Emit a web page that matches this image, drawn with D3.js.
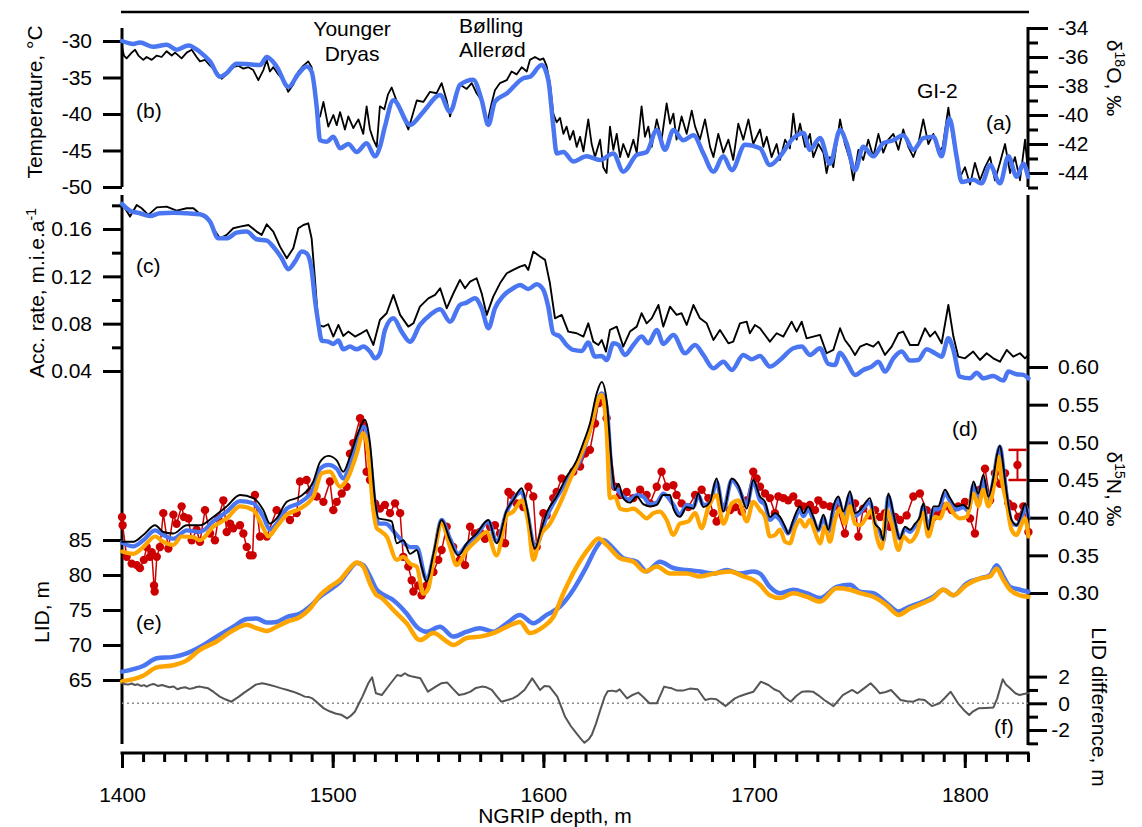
<!DOCTYPE html>
<html>
<head>
<meta charset="utf-8">
<script src="https://cdn.jsdelivr.net/npm/d3@7"></script>
<style>
body { margin: 0; background: #fff; }
svg text { font-family: "Liberation Sans", Arial, sans-serif; font-size: 21px; fill: #000; }
.tick line { stroke: #000; stroke-width: 3; }
</style>
</head>
<body>
<script>
// ---- data: [NGRIP depth (m), value] ----
var tempBlue = [[1400,-30.0],[1405.4,-30.4],[1408.5,-30.2],[1414.9,-30.8],[1421.2,-30.5],[1426,-31.2],[1431.5,-30.6],[1437,-31.5],[1441.8,-32.8],[1446.5,-34.9],[1449.7,-34.4],[1454.4,-33.1],[1460.7,-33.2],[1465.5,-33.3],[1468.7,-32.2],[1473.4,-33.5],[1479,-36.3],[1483.7,-34.5],[1487.7,-33.5],[1490,-34.2],[1492.4,-39.0],[1494,-43.6],[1497.2,-43.8],[1500.3,-43.1],[1503.5,-44.7],[1507.4,-44.1],[1511.4,-45.2],[1516.1,-44.0],[1520.1,-45.8],[1522.4,-44.5],[1524.8,-41.7],[1528.8,-38.1],[1536.7,-41.5],[1543,-39.7],[1551,-37.4],[1555.7,-39.7],[1560.4,-36.0],[1566.7,-35.3],[1570.7,-38.1],[1573.9,-41.5],[1577,-38.3],[1582.6,-37.2],[1590.5,-35.1],[1593.6,-34.9],[1599.2,-33.3],[1602.3,-35.3],[1604.7,-41.7],[1606.3,-45.4],[1609.5,-45.2],[1614.2,-46.5],[1620.5,-45.8],[1626.9,-46.3],[1633.2,-45.4],[1637.9,-47.9],[1644.3,-45.6],[1649,-45.2],[1653.8,-42.2],[1657.7,-44.9],[1661.7,-42.2],[1666.4,-43.6],[1671.2,-42.9],[1675.9,-45.4],[1680.7,-47.9],[1685.4,-45.8],[1689.4,-47.7],[1695.7,-44.2],[1702.8,-44.7],[1707.5,-47.0],[1712.3,-45.8],[1718.6,-43.3],[1723.4,-42.6],[1726.5,-44.9],[1731.3,-43.3],[1736,-46.8],[1740.8,-42.2],[1743.9,-44.0],[1747.9,-47.7],[1751.8,-44.5],[1756.6,-45.8],[1761.3,-44.0],[1766.1,-43.6],[1770.8,-42.9],[1775.6,-44.9],[1780.3,-43.3],[1785.1,-43.1],[1789,-45.8],[1792.7,-40.6],[1796.1,-45.8],[1798.5,-49.3],[1804,-49.0],[1808,-49.5],[1812,-47.0],[1816.7,-49.5],[1820.7,-45.8],[1824.6,-48.6],[1827.8,-46.8],[1830,-48.6]];

var d18oBlack = [[1400,-35.3],[1400.9,-35.9],[1402.2,-36.1],[1404.6,-35.7],[1406.2,-35.5],[1407.8,-35.9],[1410.1,-36.2],[1411.7,-36.0],[1414.1,-36.2],[1416.5,-35.9],[1418.8,-36.0],[1421.2,-35.6],[1423.6,-35.9],[1425.2,-35.7],[1428.3,-36.1],[1430.7,-35.7],[1433.1,-35.5],[1435.4,-36.0],[1437,-36.3],[1439.4,-36.2],[1441.8,-36.6],[1444.9,-37.0],[1447.3,-37.5],[1449.7,-37.2],[1452.8,-36.7],[1455.2,-36.6],[1457.6,-36.8],[1460,-36.7],[1462.3,-36.9],[1464.7,-37.6],[1467.1,-36.9],[1468.7,-36.2],[1470.2,-37.0],[1471.8,-36.7],[1474.2,-37.2],[1476.6,-37.6],[1478.9,-38.4],[1481.3,-37.9],[1483.7,-37.0],[1486.1,-36.6],[1488.4,-36.3],[1490,-36.7],[1491.6,-38.7],[1492.7,-40.3],[1494,-40.1],[1495.6,-39.1],[1497.9,-40.8],[1500.3,-40.0],[1501.9,-40.7],[1503.5,-39.8],[1505.8,-41.0],[1507.4,-40.1],[1509.8,-40.9],[1512.2,-40.3],[1514.5,-41.3],[1516.1,-39.4],[1517.7,-41.0],[1519.3,-41.7],[1520.9,-42.2],[1522.4,-39.4],[1524.5,-39.6],[1526.2,-38.6],[1528,-38.1],[1532,-39.7],[1535.9,-41.0],[1539.9,-39.0],[1543,-39.1],[1546.2,-38.4],[1549.3,-38.5],[1551.7,-37.8],[1554.1,-39.0],[1555.7,-40.1],[1558,-38.7],[1560.4,-37.9],[1563.6,-38.2],[1566,-37.8],[1568.3,-38.5],[1570.7,-39.0],[1573.1,-40.7],[1575.4,-39.2],[1577,-38.3],[1579.4,-37.8],[1582.6,-37.6],[1584.9,-37.0],[1587.3,-37.2],[1589.7,-36.7],[1592.1,-37.0],[1593.6,-36.2],[1596,-36.0],[1598.4,-36.2],[1600,-36.1],[1601.5,-36.6],[1603.1,-37.8],[1604.7,-39.9],[1606.3,-40.5],[1607.9,-40.2],[1609.5,-41.3],[1611,-40.8],[1612.6,-41.7],[1614.2,-41.1],[1615.8,-42.2],[1617.4,-41.5],[1619,-42.5],[1621.3,-40.3],[1622.9,-42.0],[1624.5,-42.9],[1626.9,-41.7],[1628.4,-43.6],[1630,-44.0],[1631.6,-40.8],[1633.2,-42.4],[1634.8,-41.3],[1636.4,-42.9],[1637.9,-42.0],[1640.3,-42.9],[1642.7,-41.7],[1644.3,-42.6],[1646.6,-39.4],[1648.2,-41.5],[1649.8,-40.8],[1651.4,-42.2],[1653.8,-40.3],[1656.1,-41.7],[1658.5,-39.2],[1660.1,-40.6],[1661.7,-39.9],[1663.2,-41.7],[1665.6,-40.1],[1668,-41.3],[1670.4,-39.7],[1672,-40.8],[1674.3,-41.7],[1676.7,-40.3],[1679.1,-42.2],[1680.7,-42.9],[1683,-41.3],[1685.4,-42.6],[1687.8,-41.7],[1690.1,-43.1],[1692.5,-40.6],[1694.9,-41.7],[1697.3,-40.3],[1699.6,-42.0],[1702.8,-41.0],[1704.4,-42.2],[1706,-41.5],[1708.3,-42.9],[1710.7,-42.0],[1712.3,-43.1],[1714.7,-41.7],[1717,-42.3],[1718.6,-39.9],[1720.2,-41.7],[1721.8,-40.6],[1724.2,-42.2],[1726.5,-41.3],[1728.1,-42.9],[1730.5,-42.0],[1732.9,-42.6],[1734.4,-44.0],[1736,-42.9],[1737.6,-43.6],[1740.8,-40.3],[1743.1,-42.0],[1745.5,-43.1],[1747.1,-44.5],[1749.5,-42.4],[1751.8,-43.1],[1754.2,-41.7],[1756.6,-42.9],[1759,-41.3],[1761.3,-42.6],[1763.7,-41.7],[1766.1,-41.3],[1768.5,-42.4],[1770.8,-41.0],[1773.2,-42.2],[1775.6,-42.9],[1777.9,-42.0],[1780.3,-40.3],[1782.7,-42.0],[1785.1,-41.3],[1787.4,-42.6],[1789.5,-42.2],[1792.2,-39.5],[1794.2,-41.5],[1796.1,-43.1],[1797.7,-44.3],[1800.1,-43.6],[1802.5,-44.8],[1804.8,-43.3],[1807.2,-44.5],[1809.6,-43.6],[1812,-42.9],[1814.3,-44.5],[1816.7,-43.3],[1819.1,-42.0],[1821.5,-44.0],[1823.8,-42.9],[1826.2,-44.5],[1828.6,-41.7],[1830.2,-44.3]];

var accBlue = [[1400,0.1812],[1403.8,0.1755],[1408.5,0.1733],[1413.3,0.1710],[1418,0.1733],[1424.4,0.1738],[1430.7,0.1733],[1437,0.1724],[1441.8,0.1662],[1445.7,0.1521],[1449.7,0.1521],[1454.4,0.1569],[1459.2,0.1578],[1463.9,0.1513],[1468.7,0.1502],[1471.8,0.1451],[1475.8,0.1353],[1478.9,0.1260],[1482.1,0.1324],[1485.3,0.1409],[1487.6,0.1395],[1490,0.1254],[1491.6,0.1000],[1493.2,0.0803],[1494.8,0.0657],[1497.9,0.0648],[1500.3,0.0629],[1502.7,0.0657],[1505,0.0583],[1508.2,0.0606],[1511.4,0.0583],[1514.5,0.0606],[1517.7,0.0564],[1520.1,0.0507],[1522.4,0.0550],[1524.8,0.0747],[1528.8,0.0845],[1532.7,0.0733],[1536.7,0.0648],[1541.4,0.0789],[1546.2,0.0874],[1551,0.0921],[1555.7,0.0817],[1560.4,0.0958],[1563.6,0.0978],[1567.5,0.1014],[1570.7,0.0930],[1573.9,0.0761],[1577,0.0930],[1580.9,0.1034],[1585.7,0.1099],[1588.9,0.1127],[1592.8,0.1093],[1596.8,0.1133],[1600,0.1085],[1602.3,0.0944],[1604.7,0.0719],[1607.9,0.0691],[1611,0.0620],[1614.2,0.0578],[1618.2,0.0569],[1621.3,0.0640],[1624.5,0.0521],[1627.7,0.0527],[1630,0.0493],[1633.2,0.0634],[1635.6,0.0620],[1638.7,0.0536],[1642.7,0.0620],[1646.6,0.0691],[1649.8,0.0634],[1653.8,0.0747],[1656.9,0.0629],[1661.7,0.0705],[1667.2,0.0550],[1672,0.0620],[1675.9,0.0536],[1680.7,0.0423],[1685.4,0.0479],[1689.4,0.0409],[1694.9,0.0536],[1698.8,0.0499],[1702.8,0.0527],[1707.5,0.0437],[1712.3,0.0493],[1718.6,0.0592],[1722.6,0.0606],[1726.5,0.0536],[1731.3,0.0592],[1735.2,0.0460],[1738.4,0.0451],[1740.8,0.0555],[1743.9,0.0479],[1747.9,0.0367],[1751.8,0.0409],[1755.8,0.0437],[1759,0.0479],[1762.1,0.0395],[1766.1,0.0507],[1770,0.0564],[1774,0.0488],[1777.9,0.0493],[1781.9,0.0583],[1785.9,0.0550],[1789,0.0521],[1792.2,0.0676],[1794.6,0.0578],[1797.7,0.0352],[1802.5,0.0338],[1805.6,0.0386],[1808.8,0.0338],[1813.5,0.0358],[1818.3,0.0319],[1820.7,0.0395],[1824.6,0.0372],[1827.8,0.0367],[1830.2,0.0338]];

var accBlack = [[1400,0.1817],[1403.8,0.1705],[1407,0.1803],[1409.3,0.1775],[1412.5,0.1719],[1416.5,0.1783],[1421.2,0.1789],[1425.9,0.1755],[1430.7,0.1775],[1433.9,0.1775],[1437,0.1727],[1440.2,0.1705],[1443.3,0.1606],[1446.5,0.1521],[1449.7,0.1550],[1452.8,0.1606],[1456,0.1620],[1460,0.1634],[1463.9,0.1578],[1466.3,0.1550],[1468.7,0.1640],[1471.8,0.1578],[1475,0.1451],[1478.2,0.1353],[1481.3,0.1437],[1483.7,0.1606],[1486.1,0.1634],[1488.4,0.1648],[1490,0.1521],[1491.6,0.1170],[1493.2,0.0789],[1495.6,0.0775],[1497.9,0.0795],[1500.3,0.0691],[1502.7,0.0789],[1505,0.0696],[1507.4,0.0733],[1510.6,0.0691],[1513,0.0713],[1516.1,0.0747],[1519.3,0.0620],[1522.4,0.0831],[1525.6,0.0888],[1528.8,0.1043],[1532,0.0874],[1535.9,0.0775],[1538.3,0.0803],[1541.4,0.0944],[1545.4,0.1014],[1548.6,0.1043],[1551,0.1099],[1554.1,0.0930],[1557.3,0.1057],[1560.4,0.1170],[1562.8,0.1099],[1565.2,0.1155],[1568.3,0.1184],[1570.7,0.1057],[1573.1,0.0874],[1576.2,0.1029],[1579.4,0.1141],[1582.6,0.1226],[1585.7,0.1254],[1588.9,0.1282],[1591.3,0.1296],[1592.8,0.1254],[1595.2,0.1409],[1598.4,0.1367],[1600.8,0.1339],[1603.1,0.1141],[1605.5,0.0845],[1608.7,0.0874],[1611.8,0.0733],[1615.8,0.0719],[1619,0.0691],[1621.3,0.0803],[1623.7,0.0648],[1626.1,0.0620],[1627.7,0.0662],[1629.7,0.0564],[1631.6,0.0747],[1634.8,0.0775],[1637.9,0.0606],[1641.1,0.0733],[1644.3,0.0775],[1646.6,0.0888],[1649,0.0803],[1651.4,0.0845],[1654.6,0.0958],[1656.9,0.0775],[1660.1,0.0944],[1663.2,0.0874],[1665.6,0.0888],[1668,0.0789],[1671.2,0.0958],[1674.3,0.0845],[1677.5,0.0803],[1680.7,0.0662],[1683.8,0.0747],[1687.8,0.0634],[1690.1,0.0648],[1693.3,0.0803],[1696.5,0.0817],[1698,0.0719],[1700.4,0.0789],[1702.8,0.0761],[1707.5,0.0648],[1710.7,0.0719],[1713.9,0.0691],[1717.8,0.0817],[1720.2,0.0733],[1722.6,0.0817],[1724.9,0.0676],[1728.1,0.0691],[1731.3,0.0705],[1734.4,0.0550],[1737.6,0.0578],[1740.8,0.0761],[1743.1,0.0662],[1745.5,0.0606],[1747.9,0.0536],[1750.3,0.0606],[1753.4,0.0629],[1756.6,0.0606],[1759,0.0648],[1762.1,0.0536],[1765.3,0.0606],[1768.5,0.0719],[1770.8,0.0733],[1774,0.0620],[1777.9,0.0620],[1781.1,0.0761],[1783.5,0.0691],[1785.9,0.0733],[1789,0.0634],[1792.2,0.0958],[1794.6,0.0691],[1796.9,0.0521],[1800.1,0.0507],[1804,0.0564],[1807.2,0.0493],[1810.4,0.0550],[1813.5,0.0507],[1816.7,0.0479],[1819.9,0.0578],[1823,0.0521],[1826.2,0.0550],[1828.6,0.0507],[1830.2,0.0536]];

var d15nRed = [[1400,0.401],[1400.3,0.390],[1402.2,0.348],[1404.6,0.339],[1407,0.337],[1408.5,0.333],[1410.4,0.344],[1411.7,0.361],[1413.3,0.348],[1414.1,0.354],[1415.2,0.310],[1415.5,0.302],[1416.5,0.348],[1418,0.361],[1419.6,0.406],[1422,0.359],[1424.4,0.404],[1425.9,0.392],[1428.3,0.415],[1429.4,0.401],[1431.5,0.399],[1433.1,0.370],[1435.4,0.384],[1437,0.368],[1439.4,0.410],[1441.8,0.379],[1444.1,0.370],[1445.7,0.399],[1448.1,0.423],[1449.7,0.381],[1451.3,0.392],[1452.8,0.386],[1456,0.390],[1457.6,0.379],[1459.2,0.361],[1460.7,0.350],[1462,0.350],[1463.1,0.430],[1465.5,0.375],[1468.7,0.375],[1473.4,0.410],[1476.6,0.404],[1479.7,0.397],[1482.9,0.406],[1484.5,0.448],[1487.6,0.450],[1489.2,0.434],[1492.4,0.428],[1495.6,0.421],[1498.7,0.448],[1500.3,0.410],[1501.9,0.421],[1504.3,0.432],[1506.6,0.441],[1508.2,0.485],[1509.8,0.499],[1513,0.532],[1514.5,0.523],[1516.1,0.461],[1517.7,0.450],[1520.1,0.419],[1522.4,0.412],[1524.8,0.417],[1527.2,0.406],[1529.6,0.419],[1532,0.406],[1533.5,0.348],[1535.9,0.335],[1537.5,0.317],[1538.3,0.302],[1540.6,0.310],[1542.2,0.297],[1544.6,0.310],[1547.8,0.328],[1550.1,0.344],[1551.7,0.357],[1554.1,0.388],[1557.2,0.361],[1560.4,0.344],[1562.8,0.337],[1565.2,0.388],[1567.5,0.379],[1569.9,0.381],[1572.3,0.372],[1574.7,0.388],[1577,0.390],[1579.4,0.379],[1581.8,0.366],[1583.4,0.434],[1584.9,0.430],[1587.3,0.419],[1590.5,0.414],[1592.9,0.441],[1595.2,0.428],[1596.8,0.361],[1600,0.406],[1601.5,0.403],[1604.7,0.426],[1606.3,0.434],[1608.7,0.452],[1611,0.450],[1614.2,0.461],[1617.4,0.468],[1619.8,0.485],[1622.1,0.490],[1624.5,0.525],[1626.1,0.552],[1627.7,0.556],[1630,0.532],[1634,0.441],[1636.4,0.430],[1639.5,0.434],[1642.7,0.426],[1645.9,0.437],[1649,0.430],[1650.6,0.419],[1653.8,0.441],[1656.1,0.461],[1658.5,0.441],[1661.7,0.443],[1663.2,0.430],[1665.6,0.419],[1668.8,0.414],[1672,0.430],[1675.1,0.437],[1678.3,0.426],[1680.7,0.406],[1682.2,0.395],[1685.4,0.414],[1688.6,0.410],[1691,0.414],[1694.1,0.408],[1696.5,0.423],[1699.6,0.461],[1701.2,0.452],[1702.8,0.441],[1705.2,0.432],[1707.5,0.426],[1709.9,0.406],[1711.5,0.428],[1713.9,0.426],[1716.2,0.423],[1718.6,0.428],[1721,0.419],[1723.4,0.415],[1726.5,0.417],[1728.9,0.410],[1730.5,0.423],[1732.9,0.417],[1736,0.415],[1739.2,0.415],[1743.1,0.379],[1745.5,0.417],[1747.9,0.419],[1749.5,0.375],[1751.8,0.412],[1755,0.403],[1757.4,0.410],[1759.8,0.401],[1762.1,0.406],[1764.5,0.388],[1766.9,0.401],[1769.2,0.397],[1772.4,0.403],[1775.6,0.428],[1778.7,0.432],[1781.9,0.410],[1785.1,0.401],[1787.4,0.406],[1790.6,0.415],[1793.8,0.410],[1796.9,0.415],[1800.1,0.421],[1802.5,0.399],[1804.8,0.379],[1807.2,0.437],[1809.6,0.465],[1812,0.423],[1814.3,0.459],[1816.7,0.445],[1819.1,0.459],[1820.7,0.419],[1823,0.415],[1825.4,0.401],[1827.8,0.415],[1830.2,0.381]];

var d15nBlue = [[1400,0.367],[1405.4,0.362],[1410.1,0.370],[1415.7,0.383],[1419.6,0.377],[1424.4,0.372],[1430.7,0.383],[1437,0.381],[1443.3,0.395],[1449.7,0.408],[1456,0.422],[1462.3,0.419],[1467.1,0.401],[1470.2,0.384],[1473.4,0.392],[1478.2,0.412],[1484.5,0.420],[1490.8,0.439],[1494,0.465],[1497.9,0.470],[1501.9,0.465],[1505,0.452],[1508.2,0.472],[1512.2,0.508],[1514.9,0.521],[1517.7,0.481],[1520.1,0.415],[1521.7,0.392],[1525,0.392],[1530.4,0.377],[1536.7,0.361],[1539.9,0.361],[1544.6,0.317],[1547.8,0.348],[1551.7,0.397],[1555.7,0.372],[1559.6,0.352],[1563.6,0.364],[1568.3,0.377],[1573.9,0.395],[1577.8,0.368],[1582.6,0.408],[1589.7,0.434],[1592.1,0.410],[1596,0.361],[1601.5,0.401],[1611,0.448],[1617.4,0.476],[1622.1,0.516],[1627.7,0.565],[1630,0.547],[1633.2,0.441],[1634.8,0.438],[1637.9,0.428],[1641.1,0.424],[1644.3,0.430],[1647.4,0.428],[1650.6,0.418],[1653.8,0.420],[1656.9,0.432],[1661.7,0.417],[1664.8,0.404],[1668,0.417],[1671.2,0.414],[1673.5,0.430],[1675.9,0.417],[1679.1,0.419],[1682.2,0.448],[1685.4,0.410],[1689.4,0.450],[1692.5,0.440],[1696.5,0.417],[1699.6,0.448],[1702.8,0.423],[1705.2,0.417],[1707.5,0.397],[1709.9,0.402],[1712.3,0.397],[1714.7,0.385],[1716.2,0.379],[1718.6,0.393],[1721.8,0.410],[1723.4,0.402],[1725.7,0.411],[1728.1,0.398],[1730.5,0.383],[1732.9,0.400],[1735.2,0.381],[1737.6,0.410],[1740,0.424],[1742.4,0.404],[1745.5,0.430],[1747.9,0.402],[1750.3,0.407],[1752.6,0.415],[1755,0.421],[1757.4,0.392],[1759.8,0.381],[1761.3,0.369],[1763.7,0.428],[1766.1,0.402],[1769.2,0.372],[1771.6,0.385],[1774,0.381],[1776.4,0.389],[1778.7,0.398],[1780.3,0.415],[1782.7,0.386],[1785.1,0.411],[1787.4,0.411],[1790.6,0.432],[1793,0.422],[1796.1,0.411],[1799.3,0.414],[1801.7,0.409],[1804.1,0.443],[1806.4,0.428],[1808.8,0.450],[1811.2,0.425],[1813.5,0.448],[1815.1,0.478],[1816.7,0.494],[1818.3,0.465],[1819.9,0.428],[1822.2,0.394],[1824.6,0.390],[1827,0.402],[1828.6,0.415],[1830.2,0.401]];

var d15nOrange = [[1400,0.355],[1405.4,0.352],[1410.1,0.361],[1415.7,0.375],[1419.6,0.368],[1424.4,0.364],[1428.3,0.375],[1433.9,0.374],[1437,0.370],[1443.3,0.388],[1449.7,0.399],[1456,0.415],[1462.3,0.410],[1467.1,0.386],[1469.5,0.375],[1473.4,0.388],[1478.2,0.404],[1484.5,0.412],[1490.8,0.428],[1494.8,0.459],[1498.7,0.461],[1503.5,0.441],[1507.4,0.454],[1511.4,0.485],[1514.5,0.512],[1516.9,0.485],[1519.3,0.410],[1520.9,0.386],[1522.4,0.383],[1525.6,0.375],[1530.4,0.344],[1533.5,0.348],[1536.7,0.339],[1539.9,0.335],[1543,0.299],[1545.4,0.306],[1547.8,0.344],[1551.7,0.392],[1555.7,0.361],[1558.8,0.337],[1563.6,0.357],[1568.3,0.370],[1573.1,0.381],[1577.8,0.350],[1582.6,0.403],[1585.7,0.408],[1589.7,0.423],[1592.9,0.392],[1595.2,0.344],[1598.4,0.375],[1603.1,0.392],[1607.9,0.419],[1612.6,0.450],[1617.4,0.481],[1622.1,0.516],[1626.1,0.558],[1627.7,0.563],[1630,0.516],[1631.6,0.426],[1634,0.428],[1636.4,0.412],[1639.5,0.410],[1642.7,0.412],[1645.9,0.406],[1649,0.399],[1652.2,0.406],[1655.3,0.408],[1658.5,0.397],[1661.7,0.377],[1664.8,0.392],[1668.8,0.395],[1672,0.406],[1675.1,0.386],[1678.3,0.414],[1682.2,0.430],[1685.4,0.392],[1689.4,0.419],[1692.5,0.423],[1696.5,0.395],[1699.6,0.421],[1702.8,0.410],[1705.2,0.401],[1707.5,0.375],[1709.9,0.377],[1712.3,0.384],[1714.7,0.368],[1717,0.366],[1719.4,0.386],[1721.8,0.397],[1724.2,0.388],[1726.5,0.397],[1728.9,0.381],[1731.3,0.366],[1733.6,0.388],[1736,0.368],[1738.4,0.397],[1740.8,0.412],[1743.1,0.392],[1745.5,0.415],[1747.9,0.392],[1750.3,0.390],[1753.4,0.401],[1755.8,0.410],[1758.2,0.375],[1760.5,0.359],[1762.9,0.410],[1765.3,0.392],[1768.5,0.357],[1770.8,0.375],[1774,0.368],[1777.2,0.379],[1780.3,0.406],[1782.7,0.375],[1785.9,0.401],[1788.2,0.399],[1791.4,0.419],[1794.6,0.406],[1797.7,0.399],[1800.9,0.401],[1804.1,0.432],[1806.4,0.415],[1808.8,0.437],[1811.2,0.415],[1813.5,0.437],[1815.9,0.481],[1817.5,0.450],[1819.9,0.419],[1822.2,0.384],[1824.6,0.377],[1827,0.392],[1828.6,0.399],[1830.2,0.375]];

var d15nBlack = [[1400,0.368],[1405.4,0.368],[1410.1,0.377],[1415.7,0.390],[1419.6,0.381],[1424.4,0.379],[1430.7,0.390],[1437,0.390],[1443.3,0.401],[1449.7,0.415],[1456,0.430],[1462.3,0.426],[1467.1,0.410],[1470.2,0.392],[1473.4,0.399],[1478.2,0.421],[1484.5,0.428],[1490.8,0.448],[1494,0.474],[1497.9,0.482],[1501.9,0.476],[1505,0.461],[1508.2,0.481],[1512.2,0.514],[1515.3,0.530],[1517.7,0.499],[1520.1,0.423],[1521.7,0.399],[1525.6,0.397],[1528,0.395],[1530.4,0.366],[1533.5,0.370],[1536.7,0.352],[1539.9,0.357],[1542.2,0.335],[1544.6,0.315],[1547.8,0.352],[1551.7,0.397],[1555.7,0.370],[1559.6,0.350],[1563.6,0.366],[1568.3,0.379],[1573.9,0.397],[1577.8,0.366],[1582.6,0.410],[1585.7,0.423],[1589.7,0.439],[1592.1,0.414],[1596,0.359],[1598.4,0.379],[1601.5,0.406],[1606.3,0.428],[1611,0.454],[1615.8,0.476],[1618.9,0.499],[1622.1,0.525],[1625.3,0.565],[1627.7,0.580],[1630,0.556],[1632.4,0.472],[1634,0.437],[1635.6,0.445],[1637.9,0.426],[1641.1,0.420],[1644.3,0.428],[1647.4,0.418],[1650.6,0.415],[1653.8,0.417],[1656.9,0.430],[1660.1,0.430],[1661.7,0.412],[1664.8,0.401],[1668,0.414],[1671.2,0.412],[1673.5,0.432],[1675.9,0.414],[1679.1,0.421],[1682.2,0.452],[1685.4,0.408],[1689.4,0.452],[1692.5,0.443],[1696.5,0.412],[1699.6,0.450],[1702.8,0.428],[1705.2,0.421],[1707.5,0.401],[1709.9,0.406],[1712.3,0.401],[1714.7,0.388],[1716.2,0.379],[1718.6,0.397],[1721.8,0.415],[1723.4,0.406],[1725.7,0.415],[1728.1,0.401],[1730.5,0.384],[1732.9,0.404],[1735.2,0.384],[1737.6,0.415],[1740,0.428],[1742.4,0.408],[1745.5,0.435],[1747.9,0.406],[1750.3,0.410],[1752.6,0.419],[1755,0.426],[1757.4,0.392],[1759.8,0.384],[1761.3,0.370],[1763.7,0.432],[1766.1,0.406],[1769.2,0.372],[1771.6,0.388],[1774,0.384],[1776.4,0.392],[1778.7,0.401],[1780.3,0.419],[1782.7,0.384],[1785.1,0.415],[1787.4,0.415],[1790.6,0.437],[1793,0.426],[1796.1,0.415],[1799.3,0.417],[1801.7,0.412],[1804.1,0.448],[1806.4,0.432],[1808.8,0.457],[1811.2,0.428],[1813.5,0.452],[1815.1,0.481],[1816.7,0.496],[1818.3,0.468],[1819.9,0.432],[1822.2,0.397],[1824.6,0.390],[1827,0.406],[1828.6,0.419],[1830.2,0.399]];

var lidBlue = [[1400,66.2],[1410,67.0],[1416.5,68.1],[1424.4,68.3],[1430.7,68.8],[1437,69.7],[1444.9,71.2],[1452.8,72.6],[1459.2,73.7],[1463.9,73.8],[1468.7,73.2],[1473.4,73.3],[1478.2,74.0],[1484.5,74.5],[1489.2,75.5],[1494,76.9],[1498.7,77.9],[1503.5,79.0],[1507.4,80.5],[1511.4,81.7],[1514.5,81.4],[1517.7,79.8],[1520.9,77.9],[1522.4,77.5],[1528.8,76.4],[1535.1,74.5],[1539.9,72.6],[1544.6,71.9],[1550.9,72.6],[1557.3,71.2],[1563.6,71.9],[1569.9,72.4],[1576.2,71.9],[1582.6,73.1],[1588.9,74.3],[1595.2,73.1],[1601.5,74.3],[1607.9,75.5],[1614.2,77.9],[1620.5,81.2],[1625.3,84.0],[1628.4,85.0],[1633.2,83.8],[1637.9,82.4],[1644.3,81.9],[1649,80.5],[1655.3,81.9],[1661.7,81.0],[1668,80.7],[1674.3,80.5],[1680.7,80.2],[1687,80.7],[1693.3,80.2],[1699.6,80.5],[1702.8,80.2],[1707.5,78.3],[1712.3,77.4],[1718.6,77.9],[1724.9,77.4],[1731.3,76.7],[1739.2,78.3],[1745.5,78.6],[1750.3,77.6],[1756.6,77.4],[1762.9,76.0],[1768.5,74.8],[1774,75.5],[1780.3,76.2],[1785.1,76.9],[1789.8,77.9],[1794.6,77.1],[1800.9,78.8],[1807.2,79.5],[1812,80.0],[1815.1,81.4],[1818.3,79.8],[1821.5,78.3],[1826.2,77.9],[1830.2,77.6]];

var lidOrange = [[1400,64.8],[1410,65.6],[1416.5,66.8],[1424.4,67.1],[1430.7,67.8],[1437,69.3],[1444.9,70.5],[1452.8,72.1],[1459.2,72.9],[1463.9,72.4],[1468.7,72.0],[1473.4,72.6],[1478.2,73.3],[1484.5,74.0],[1489.2,75.2],[1494,77.1],[1498.7,78.3],[1503.5,79.3],[1508.2,81.0],[1511.4,81.8],[1514.5,81.2],[1517.7,78.8],[1520.9,77.1],[1522.4,76.9],[1528.8,75.0],[1535.1,73.1],[1541.4,70.7],[1547.8,71.7],[1554.1,70.5],[1557.3,70.0],[1563.6,71.0],[1569.9,71.2],[1576.2,71.7],[1582.6,72.6],[1588.9,73.3],[1593.6,71.7],[1600,72.6],[1604.7,74.0],[1609.5,77.4],[1615.8,81.2],[1622.1,84.0],[1626.1,85.2],[1630,84.3],[1636.4,82.4],[1642.7,81.9],[1648.2,80.5],[1653.8,81.2],[1660.1,80.2],[1668,80.2],[1674.3,79.8],[1680.7,80.2],[1688.6,80.5],[1694.9,79.8],[1699.6,79.3],[1702.8,78.6],[1707.5,77.1],[1712.3,76.7],[1718.6,77.4],[1724.9,76.9],[1731.3,76.2],[1739.2,78.1],[1745.5,77.9],[1750.3,77.4],[1756.6,76.9],[1762.9,75.7],[1768.5,74.3],[1774,75.2],[1780.3,76.0],[1785.1,76.7],[1789.8,77.9],[1794.6,77.1],[1800.9,78.6],[1807.2,79.5],[1812,79.8],[1815.1,80.9],[1818.3,79.3],[1821.5,77.9],[1826.2,77.1],[1830.2,76.9]];

var lidDiff = [[1400.3,1.50],[1401.5,1.42],[1403,1.40],[1404.5,1.48],[1406.2,1.37],[1407.5,1.42],[1409,1.30],[1410.5,1.36],[1411.7,1.25],[1413.3,1.38],[1415,1.45],[1417,1.30],[1419,1.37],[1420.8,1.28],[1422.5,1.20],[1424.5,1.26],[1426.3,1.05],[1428,1.15],[1430,1.20],[1432,1.08],[1433.6,1.12],[1435.3,1.22],[1437,1.25],[1439,1.18],[1440.9,1.12],[1443.5,0.85],[1446.4,0.50],[1449,0.30],[1451.9,0.12],[1455.5,0.50],[1458,0.80],[1461,1.12],[1463.5,1.40],[1466.5,1.50],[1468.3,1.44],[1470.2,1.37],[1473,1.25],[1475.7,1.12],[1478.5,1.00],[1481.2,0.87],[1484,0.70],[1486.7,0.50],[1488.5,0.48],[1490.3,0.37],[1493,0.0],[1495.8,-0.38],[1498.5,-0.60],[1501.3,-0.76],[1504,-0.85],[1506.8,-1.13],[1508.5,-0.95],[1510.5,-0.63],[1512.5,0.0],[1514.1,0.50],[1516.9,1.50],[1518.7,1.95],[1520.5,0.75],[1523.3,0.62],[1526.9,1.37],[1530.6,2.12],[1532.5,2.05],[1534.3,2.25],[1536,2.08],[1537.9,2.0],[1541.6,1.87],[1545.2,0.87],[1548.9,1.25],[1551.5,1.50],[1554.4,1.55],[1557,1.1],[1559.9,0.62],[1562.5,0.70],[1565.4,0.87],[1568,1.15],[1570.9,1.25],[1573,1.20],[1575.5,1.0],[1578,0.5],[1580,0.12],[1583,0.25],[1585.5,0.37],[1588,0.60],[1591,1.0],[1594.7,1.87],[1598.4,1.0],[1600.5,1.30],[1602.9,1.25],[1606.6,0.50],[1610.3,-1.01],[1613,-1.7],[1615.7,-2.26],[1618,-2.7],[1619.5,-2.96],[1621.5,-2.7],[1623,-2.35],[1625,-1.5],[1627,-0.5],[1629.1,0.50],[1630.5,0.90],[1632.6,0.95],[1634.5,0.88],[1636.2,1.05],[1639.7,0.37],[1642,0.6],[1645,0.80],[1647.5,0.45],[1650.3,0.0],[1653.8,0.0],[1657.3,1.25],[1659,1.18],[1660.9,1.12],[1663.5,0.95],[1666.2,0.95],[1669.5,1.10],[1673.2,1.05],[1676.8,0.25],[1679.5,0.35],[1682.1,0.30],[1686.5,-0.21],[1690.9,0.37],[1693.5,0.55],[1696.2,0.70],[1699.7,0.87],[1703.2,1.62],[1706.8,1.37],[1709.5,1.05],[1712.1,0.87],[1714.5,0.45],[1717.4,0.12],[1720,0.55],[1722.7,0.87],[1725.5,0.90],[1727.9,0.87],[1730.5,0.6],[1733.3,0.25],[1737.7,-0.21],[1742.1,0.62],[1746.5,1.0],[1749.1,0.75],[1752,1.1],[1755.3,1.50],[1757.5,1.15],[1759.7,0.75],[1762.5,0.85],[1765,1.0],[1769.5,0.25],[1772.5,0.15],[1775.6,0.12],[1778,0.3],[1780.9,0.25],[1784.4,-0.21],[1788,0.0],[1790.5,0.4],[1793.3,0.87],[1796.8,0.0],[1799.5,-0.5],[1802.1,-0.88],[1804,-0.6],[1806.5,-0.38],[1810,-0.35],[1813.6,-0.31],[1815.4,0.37],[1818,1.80],[1819.5,1.4],[1821.5,1.12],[1824,0.75],[1826,0.62],[1828,0.70],[1830,0.75]];

var errBar = [1825, 0.47, 0.02]; // depth, mean, half-range

// ---- tick values ----
var depthTicks = [1400, 1500, 1600, 1700, 1800];
var tempTicks = [-50, -45, -40, -35, -30];
var d18oTicks = [-44, -42, -40, -38, -36, -34];
var d18oMinor = [-45, -43, -41, -39, -37, -35];
var accTicks = [0.04, 0.08, 0.12, 0.16];
var accMinor = [0.06, 0.10, 0.14, 0.18];
var d15nTicks = [0.30, 0.35, 0.40, 0.45, 0.50, 0.55, 0.60];
var lidTicks = [65, 70, 75, 80, 85];
var diffTicks = [-2, 0, 2];
var diffMinor = [-3, -1, 1];

// ---- layout ----
var WIDTH = 1142, HEIGHT = 827;
var X0 = 122, X1 = 1028;
var BLUE = '#4a76f2', ORANGE = '#ffa500', RED = '#cc0000';

var translate = function (x, y) { return 'translate(' + x + ',' + y + ')'; };

var x = d3.scaleLinear().domain([1400, 1830]).range([X0, X1]);
var yTemp = d3.scaleLinear().domain([-50, -30]).range([187, 41]);
var yD18o = d3.scaleLinear().domain([-44, -34]).range([173, 28]);
var yAcc = d3.scaleLinear().domain([0.04, 0.16]).range([371, 229]);
var yD15n = d3.scaleLinear().domain([0.30, 0.60]).range([593, 367]);
var yLid = d3.scaleLinear().domain([65, 85]).range([680, 540]);
var yDiff = d3.scaleLinear().domain([-2, 2]).range([730, 676.6]);

var svg = d3.select('body').append('svg')
    .attr('width', WIDTH)
    .attr('height', HEIGHT);

var hline = function (x1, x2, y, w) {
  svg.append('line').attr('x1', x1).attr('x2', x2).attr('y1', y).attr('y2', y)
    .attr('stroke', '#000').attr('stroke-width', w);
};
var vline = function (xp, y1, y2) {
  svg.append('line').attr('x1', xp).attr('x2', xp).attr('y1', y1).attr('y2', y2)
    .attr('stroke', '#000').attr('stroke-width', 3);
};

// frame and spines
hline(X0 - 1, X1 + 1, 12, 2.5);
vline(X0, 28, 187);
vline(X0, 195, 744);
vline(X1, 27, 187);
vline(X1, 195, 745);
hline(X0 - 1.5, X1 + 1.5, 753, 3);

var addAxis = function (axisFn, scale, xp, yp, values, size, fmt, pad) {
  var a = axisFn(scale).tickValues(values).tickSize(size).tickSizeOuter(0);
  if (fmt) { a.tickFormat(fmt).tickPadding(pad); } else { a.tickFormat(function () { return ''; }); }
  var g = svg.append('g').attr('transform', translate(xp, yp)).call(a);
  g.select('.domain').remove();
  return g;
};

var plain = function (d) { return String(d); };
var two = function (d) { return d.toFixed(2); };

// left axes
addAxis(d3.axisLeft, yTemp, X0, 0, tempTicks, 19, plain, 11);
addAxis(d3.axisLeft, yAcc, X0, 0, accTicks, 19, two, 11);
addAxis(d3.axisLeft, yAcc, X0, 0, accMinor, 10);
addAxis(d3.axisLeft, yLid, X0, 0, lidTicks, 19, plain, 11);

// right axes
addAxis(d3.axisRight, yD18o, X1, 0, d18oTicks, 20, plain, 10);
addAxis(d3.axisRight, yD18o, X1, 0, d18oMinor, 10);
addAxis(d3.axisRight, yD15n, X1, 0, d15nTicks, 20, two, 10);
var gDiff = addAxis(d3.axisRight, yDiff, X1, 0, diffTicks, 19, plain, 10);
gDiff.selectAll('text').attr('text-anchor', 'end').attr('x', 42);
addAxis(d3.axisRight, yDiff, X1, 0, diffMinor, 10);

// bottom axis
addAxis(d3.axisBottom, x, 0, 753, d3.range(1400, 1831, 10), 9);
addAxis(d3.axisBottom, x, 0, 753, depthTicks, 15, plain, 19);

// ---- series ----
var lineOf = function (ys, curve) {
  return d3.line()
    .x(function (d) { return x(d[0]); })
    .y(function (d) { return ys(d[1]); })
    .curve(curve || d3.curveLinear);
};
var drawLine = function (data, ys, color, w, curve) {
  svg.append('path').attr('d', lineOf(ys, curve)(data))
    .attr('fill', 'none').attr('stroke', color).attr('stroke-width', w)
    .attr('stroke-linejoin', 'round').attr('stroke-linecap', 'round');
};

// (a)/(b)
drawLine(d18oBlack, yD18o, '#000', 1.8);
drawLine(tempBlue, yTemp, BLUE, 4.5, d3.curveMonotoneX);

// (c)
drawLine(accBlack, yAcc, '#000', 1.9);
drawLine(accBlue, yAcc, BLUE, 4.5, d3.curveMonotoneX);

// (d)
drawLine(d15nRed, yD15n, RED, 1.5);
svg.append('g').selectAll('circle')
  .data(d15nRed)
  .enter()
  .append('circle')
  .attr('cx', function (d) { return x(d[0]); })
  .attr('cy', function (d) { return yD15n(d[1]); })
  .attr('r', 4.2)
  .attr('fill', RED);
drawLine(d15nBlue, yD15n, BLUE, 4.2, d3.curveMonotoneX);
drawLine(d15nOrange, yD15n, ORANGE, 4.2, d3.curveMonotoneX);
drawLine(d15nBlack, yD15n, '#000', 1.9, d3.curveMonotoneX);

// error bar
var ex = x(errBar[0]);
svg.append('line').attr('x1', ex).attr('x2', ex)
  .attr('y1', yD15n(errBar[1] + errBar[2])).attr('y2', yD15n(errBar[1] - errBar[2]))
  .attr('stroke', RED).attr('stroke-width', 2);
[errBar[1] + errBar[2], errBar[1] - errBar[2]].forEach(function (v) {
  svg.append('line').attr('x1', ex - 9).attr('x2', ex + 9)
    .attr('y1', yD15n(v)).attr('y2', yD15n(v))
    .attr('stroke', RED).attr('stroke-width', 2.5);
});
svg.append('circle').attr('cx', ex).attr('cy', yD15n(errBar[1])).attr('r', 4.2).attr('fill', RED);

// (e)
drawLine(lidBlue, yLid, BLUE, 4.5, d3.curveMonotoneX);
drawLine(lidOrange, yLid, ORANGE, 4.5, d3.curveMonotoneX);

// (f)
svg.append('line').attr('x1', X0).attr('x2', X1)
  .attr('y1', yDiff(0)).attr('y2', yDiff(0))
  .attr('stroke', '#8c8c8c').attr('stroke-width', 1.5).attr('stroke-dasharray', '2,3');
drawLine(lidDiff, yDiff, '#555', 2);

// ---- text ----
var label = function (t, xp, yp, anchor) {
  svg.append('text').attr('x', xp).attr('y', yp).attr('text-anchor', anchor || 'start').text(t);
};
label('Younger', x(1509.2), 36, 'middle');
label('Dryas', x(1509.2), 61, 'middle');
label('Bølling', x(1560), 33);
label('Allerød', x(1560), 57);
label('GI-2', x(1777.3), 98);
label('(a)', 986, 130);
label('(b)', 136, 118);
label('(c)', 136, 273);
label('(d)', 952, 436);
label('(e)', 136, 630);
label('(f)', 994, 734);
label('NGRIP depth, m', 555, 823, 'middle');

var vLabel = function (xp, yp, angle, parts) {
  var t = svg.append('text').attr('transform', translate(xp, yp) + ' rotate(' + angle + ')')
    .attr('text-anchor', 'middle');
  parts.forEach(function (p) {
    var s = t.append('tspan').text(p[0]);
    if (p[1]) { s.style('font-size', '14px').attr('dy', -8); }
    if (p[2]) { s.attr('dy', 8); }
  });
};
vLabel(42, 102, -90, [['Temperature, °C']]);
vLabel(44, 293, -90, [['Acc. rate, m.i.e.a'], ['-1', true]]);
vLabel(49, 612, -90, [['LID, m']]);
vLabel(1107, 78, 90, [['δ'], ['18', true], ['O, ‰', false, true]]);
vLabel(1107, 489, 90, [['δ'], ['15', true], ['N, ‰', false, true]]);
vLabel(1092, 707, 90, [['LID difference, m']]);
</script>
</body>
</html>
